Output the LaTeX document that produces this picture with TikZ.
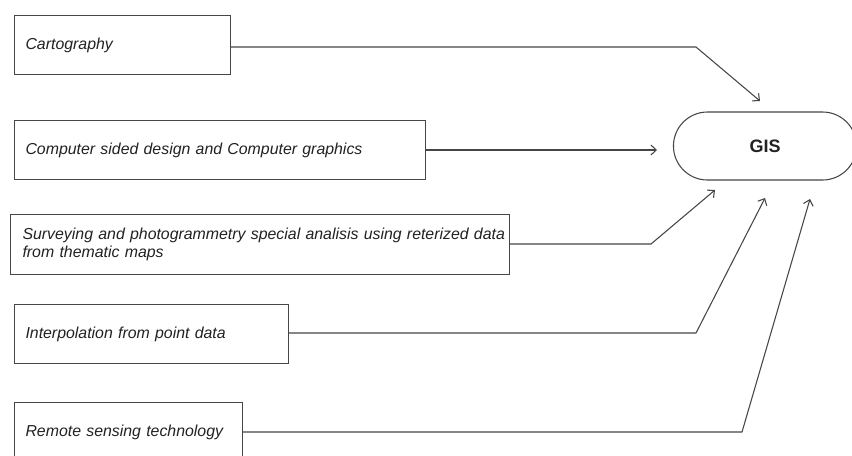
\documentclass[tikz,border=0pt]{standalone}
\usepackage{fontspec}
\setmainfont{Liberation Sans}
\usetikzlibrary{arrows.meta,shapes.misc}
\definecolor{lc}{RGB}{70,70,70}
\definecolor{tc}{RGB}{34,34,34}
\begin{document}
\begin{tikzpicture}[x=0.75pt,y=-0.75pt,
  box/.style={draw=lc, line width=0.8pt, anchor=north west, align=left,
    inner xsep=8.25pt, inner ysep=0pt, text=tc,
    font=\fontsize{11.9}{13.2}\selectfont\itshape},
  gisbox/.style={draw=lc, line width=0.8pt, rounded rectangle,
    minimum width=144pt, minimum height=51pt, text=tc,
    font=\fontsize{13.5}{16}\selectfont\bfseries},
  conn/.style={draw=lc, line width=0.8pt, -{Straight Barb[length=4pt,width=7.5pt]}}]
\useasboundingbox (0,0) rectangle (852,455);
\clip (0,0) rectangle (852,455);
\fill[white] (0,0) rectangle (852,455);

\node[box, minimum width=162pt, minimum height=44.25pt, text width=145.5pt] (c1) at (14,15) {Cartography};
\node[box, minimum width=308.25pt, minimum height=44.25pt, text width=291.75pt] (c2) at (14,120) {Computer sided design and Computer graphics};
\node[box, inner xsep=2pt, minimum width=374.25pt, minimum height=45pt, text width=370.25pt] (c3) at (10,214) {\hspace*{7pt}Surveying and photogrammetry special analisis using reterized data\\\hspace*{7pt}from thematic maps};
\node[box, minimum width=205.5pt, minimum height=44.25pt, text width=189pt] (c4) at (14,304) {Interpolation from point data};
\node[box, minimum width=171pt, minimum height=45pt, text width=154.5pt] (c5) at (14,402) {Remote sensing technology};

\node[gisbox] (gis) at (765,146) {GIS};

\coordinate (k1) at (696,47);  \coordinate (t1) at (760,101);
\coordinate (t2) at (657,150);
\coordinate (k3) at (651,244); \coordinate (t3) at (715,190);
\coordinate (k4) at (696,333); \coordinate (t4) at (765,198);
\coordinate (k5) at (742,432); \coordinate (t5) at (810,199);

\draw[conn] (c1.east |- k1) -- (k1) -- (t1);
\draw[conn] (c2.east |- t2) -- (t2);
\draw[conn] (c3.east |- k3) -- (k3) -- (t3);
\draw[conn] (c4.east |- k4) -- (k4) -- (t4);
\draw[conn] (c5.east |- k5) -- (k5) -- (t5);
\end{tikzpicture}
\end{document}
